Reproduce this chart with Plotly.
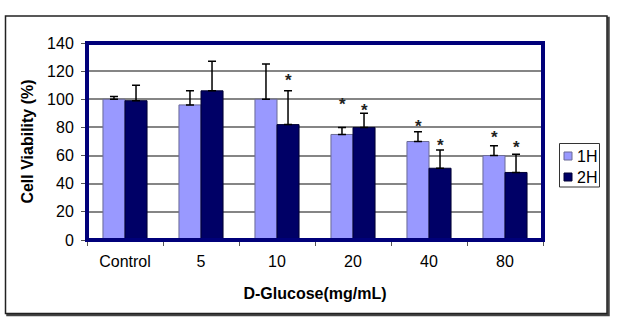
import plotly.graph_objects as go

categories = ["Control", "5", "10", "20", "40", "80"]
h1_values = [100, 96, 100, 75, 70, 60]
h1_errors = [2, 10, 25, 5, 7, 7]
h2_values = [99, 106, 82, 80, 51, 48]
h2_errors = [11, 21, 24, 10, 13, 13]
# asterisk positions (value axis) per bar, None = no asterisk
h1_stars = [None, None, None, 96, 81, 73]
h2_stars = [None, None, 113, 92, 67, 66]
y_ticks = [0, 20, 40, 60, 80, 100, 120, 140]
series_names = ["1H", "2H"]

FONT = "Liberation Sans, Arial, sans-serif"
NAVY = "#00007a"
LIGHT = "#9999ff"
DARK = "#000066"

fig = go.Figure()
fig.add_trace(go.Bar(
    name=series_names[0], x=categories, y=h1_values, showlegend=False,
    marker=dict(color=LIGHT, line=dict(color="#6b6b96", width=1)),
    error_y=dict(type="data", array=h1_errors, arrayminus=[0]*6, symmetric=False,
                 color="black", thickness=1.5, width=4),
))
fig.add_trace(go.Bar(
    name=series_names[1], x=categories, y=h2_values, showlegend=False,
    marker=dict(color=DARK, line=dict(color="#000033", width=1)),
    error_y=dict(type="data", array=h2_errors, arrayminus=[0]*6, symmetric=False,
                 color="black", thickness=1.5, width=4),
))

annotations = []
for i, s in enumerate(h1_stars):
    if s is not None:
        annotations.append(dict(x=i, y=s, xref="x", yref="y", text="<b>*</b>",
                                showarrow=False, xshift=-11, font=dict(size=17, color="#222", family=FONT)))
for i, s in enumerate(h2_stars):
    if s is not None:
        annotations.append(dict(x=i, y=s, xref="x", yref="y", text="<b>*</b>",
                                showarrow=False, xshift=11, font=dict(size=17, color="#222", family=FONT)))

# plot area in page px: x 87..543, y 43..240
PW, PH = 456.0, 197.0
def px_x(p):
    return (p - 87) / PW
def px_y(p):
    return (240 - p) / PH

shapes = [
    # outer drop shadow
    dict(type="rect", xref="paper", yref="paper", x0=px_x(7.5), x1=px_x(608.5), y0=px_y(315), y1=px_y(18),
         line=dict(color="#444", width=2.5), layer="below"),
    # outer border
    dict(type="rect", xref="paper", yref="paper", x0=px_x(5.5), x1=px_x(607), y0=px_y(313.5), y1=px_y(16),
         line=dict(color="#222", width=1.5), fillcolor="white", layer="below"),
    # plot area navy border
    dict(type="rect", xref="paper", yref="paper", x0=0, x1=1, y0=0, y1=1,
         line=dict(color=NAVY, width=4), layer="above"),
    # legend box
    dict(type="rect", xref="paper", yref="paper", x0=px_x(559.5), x1=px_x(599.5), y0=px_y(187), y1=px_y(143.5),
         line=dict(color="#333", width=1), fillcolor="white"),
    # legend swatches
    dict(type="rect", xref="paper", yref="paper", x0=px_x(564), x1=px_x(572), y0=px_y(160), y1=px_y(152),
         line=dict(color="#6b6b96", width=1), fillcolor=LIGHT),
    dict(type="rect", xref="paper", yref="paper", x0=px_x(564), x1=px_x(572), y0=px_y(181), y1=px_y(173),
         line=dict(color="#000033", width=1), fillcolor=DARK),
]
annotations.append(dict(x=px_x(575), y=px_y(156), xref="paper", yref="paper", text=series_names[0],
                        showarrow=False, xanchor="left", yanchor="middle", font=dict(size=16, family=FONT)))
annotations.append(dict(x=px_x(575), y=px_y(177), xref="paper", yref="paper", text=series_names[1],
                        showarrow=False, xanchor="left", yanchor="middle", font=dict(size=16, family=FONT)))

fig.update_layout(
    width=622, height=326,
    margin=dict(l=87, r=79, t=43, b=86, autoexpand=False),
    paper_bgcolor="white", plot_bgcolor="white",
    barmode="group", bargap=0.42, bargroupgap=0,
    font=dict(family=FONT, size=16, color="black"),
    showlegend=False,
    annotations=annotations,
    shapes=shapes,
)
fig.update_xaxes(
    type="category", range=[-0.5, 5.5], tickson="boundaries", ticks="outside", ticklen=5, tickcolor="#555",
    showline=False, showgrid=False, tickangle=0, ticklabelstandoff=10,
    tickfont=dict(size=16, family=FONT),
    title=dict(text="<b>D-Glucose(mg/mL)</b>", font=dict(size=16, family=FONT), standoff=18),
)
fig.update_yaxes(
    range=[0, 140], tickvals=y_ticks, ticks="outside", ticklen=5, tickcolor="#555",
    showgrid=True, gridcolor="#858585", gridwidth=1.8, zeroline=False, showline=False,
    tickfont=dict(size=16, family=FONT), ticklabelstandoff=4,
    title=dict(text="<b>Cell Viability (%)</b>", font=dict(size=16, family=FONT), standoff=9),
)

fig.write_html("out.html", post_script="document.body.style.margin='0';",
               config={"displayModeBar": False})
